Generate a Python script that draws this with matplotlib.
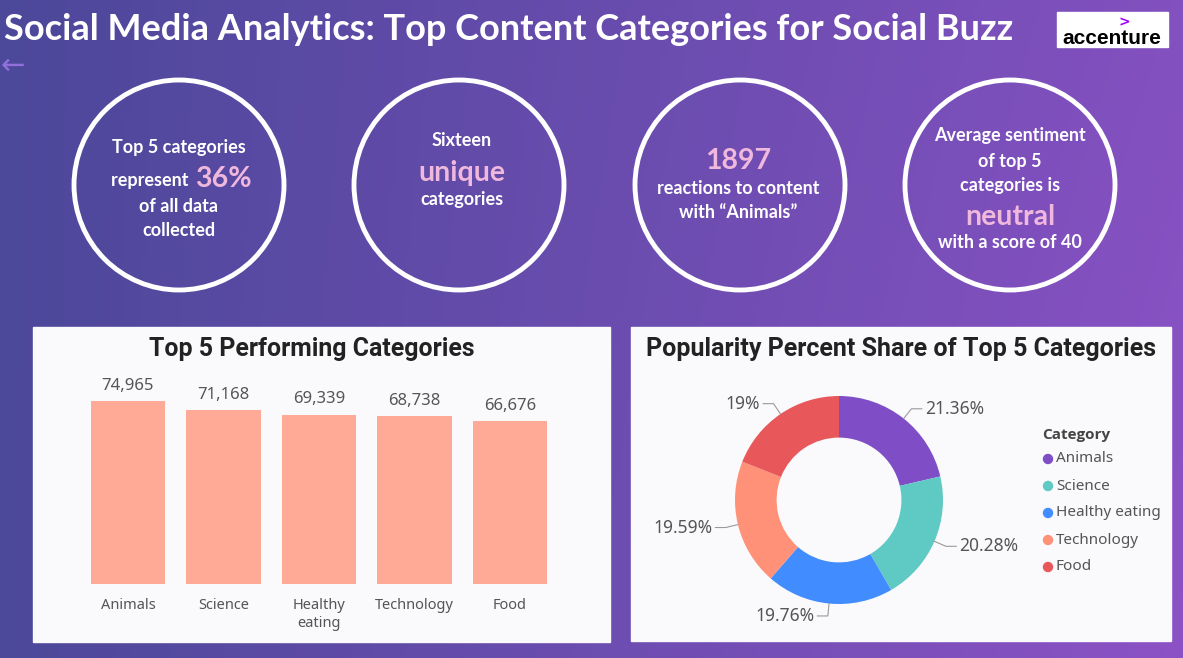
import numpy as np
import matplotlib
matplotlib.use("Agg")
from matplotlib import pyplot as plt
from matplotlib.patches import Circle, Rectangle

# data
categories = ["Animals", "Science", "Healthy eating", "Technology", "Food"]
bar_labels = ["Animals", "Science", "Healthy\neating", "Technology", "Food"]
scores = [74965, 71168, 69339, 68738, 66676]
donut_colors = ["#7F4EC6", "#5FC9C3", "#418CFF", "#FE9178", "#E8585A"]
bar_color = "#FFAA96"

title = "Social Media Analytics: Top Content Categories for Social Buzz"
pink = "#F0B8DC"
grey = "#555555"

W, H = 1183, 658
fig = plt.figure(figsize=(W / 100, H / 100), dpi=100)

# background in pixel coords
ax = fig.add_axes([0, 0, 1, 1])
ax.set_xlim(0, W)
ax.set_ylim(H, 0)
ax.axis("off")

c1 = np.array([76, 72, 154]) / 255.0
c2 = np.array([140, 82, 198]) / 255.0
gx = np.linspace(0, 1, 300)
gy = np.linspace(0, 1, 200)
GX, GY = np.meshgrid(gx, gy)
t = np.clip(0.85 * GX + 0.15 * GY * GX, 0, 1)
grad = c1[None, None, :] * (1 - t[..., None]) + c2[None, None, :] * t[..., None]
ax.imshow(grad, extent=[0, W, H, 0], aspect="auto", zorder=0)

ax.text(4, 30, title, color="white", fontsize=26, fontweight="bold",
        family="Lato", va="center", ha="left")

# accenture logo
ax.add_patch(Rectangle((1057, 12), 111, 35, color="white", zorder=2))
ax.text(1112, 38, "accenture", color="black", fontsize=15, fontweight="bold",
        family="Liberation Sans", ha="center", va="center", zorder=3)
ax.text(1124, 22, ">", color="#A100FF", fontsize=10, fontweight="bold",
        family="DejaVu Sans", ha="center", va="center", zorder=3)

ax.text(13, 66, "\u2190", color="#9270DC", fontsize=21, ha="center", va="center")

# KPI circles
centers = [179, 459, 740, 1010]
for cx in centers:
    ax.add_patch(Circle((cx, 185), 105, fill=False, ec="white", lw=3.5, zorder=2))

kw = dict(color="white", fontsize=13, fontweight="bold", family="Lato",
          ha="center", va="center", zorder=3)
big = dict(color=pink, fontsize=20.5, fontweight="bold", family="Lato",
           va="baseline", zorder=3)

ax.text(179, 147, "Top 5 categories", **kw)
ax.text(193, 186, "represent ", color="white", fontsize=13, fontweight="bold",
        family="Lato", ha="right", va="baseline", zorder=3)
ax.text(195, 187, "36%", ha="left", **big)
ax.text(179, 207, "of all data", **kw)
ax.text(179, 231, "collected", **kw)

ax.text(462, 141, "Sixteen", **kw)
ax.text(462, 181, "unique", ha="center", **big)
ax.text(462, 200, "categories", **kw)

ax.text(738, 169, "1897", ha="center", **big)
ax.text(738, 189, "reactions to content", **kw)
ax.text(738, 212, "with \u201cAnimals\u201d", **kw)

ax.text(1010, 136, "Average sentiment", **kw)
ax.text(1010, 161, "of top 5", **kw)
ax.text(1010, 185, "categories is", **kw)
ax.text(1010, 225, "neutral", ha="center", **big)
ax.text(1010, 243, "with a score of 40", **kw)

# panels
ax.add_patch(Rectangle((33, 327), 577, 315, color="#FAFAFC", zorder=1))
ax.add_patch(Rectangle((631, 327), 540, 314, color="#FAFAFC", zorder=1))

ax.text(312, 349, "Top 5 Performing Categories", color="#222222", fontsize=17.9,
        fontweight="bold", family="Roboto", ha="center", va="center", zorder=3)
ax.text(901, 349, "Popularity Percent Share of Top 5 Categories", color="#222222",
        fontsize=18, fontweight="bold", family="Roboto", ha="center", va="center",
        zorder=3)

# bar chart
px = 0.002441
ymax = 80000
bax = fig.add_axes([80.25 / W, 1 - 584 / H, 477.5 / W, ymax * px / H])
bax.set_xlim(-0.5, 4.5)
bax.set_ylim(0, ymax)
bax.axis("off")
bars = bax.bar(range(len(scores)), scores, width=0.775, color=bar_color)
for i, v in enumerate(scores):
    bax.text(i, v + 3000, f"{v:,}", ha="center", va="bottom", color=grey,
             fontsize=12, family="Noto Sans")
    ax.text(80.25 + 95.5 * (i + 0.5), 598, bar_labels[i], ha="center", va="top",
            color=grey, fontsize=10.5, family="Noto Sans", linespacing=1.3, zorder=3)

# donut chart
dax = fig.add_axes([709 / W, 1 - 630 / H, 260 / W, 260 / H])
dax.set_xlim(-1.3, 1.3)
dax.set_ylim(-1.3, 1.3)
dax.set_aspect("equal")
dax.axis("off")
wedges, _ = dax.pie(scores, colors=donut_colors, startangle=90, counterclock=False,
                    radius=1, wedgeprops=dict(width=0.4, linewidth=0))
total = sum(scores)
for w, v in zip(wedges, scores):
    pct = f"{100 * v / total:.2f}".rstrip("0").rstrip(".") + "%"
    a = np.deg2rad((w.theta1 + w.theta2) / 2)
    x0, y0 = np.cos(a), np.sin(a)
    x1, y1 = 1.12 * x0, 1.12 * y0
    s = 1 if x0 > 0 else -1
    x2 = x1 + s * 0.1
    dax.plot([x0, x1, x2], [y0, y1, y1], color="#9A9A9A", lw=0.8, clip_on=False)
    dax.text(x2 + s * 0.03, y1, pct, ha="left" if s > 0 else "right", va="center",
             color=grey, fontsize=12.5, family="Noto Sans")

# legend
ax.text(1042, 435, "Category", color="#444444", fontsize=11, fontweight="bold",
        family="Open Sans", ha="left", va="center", zorder=3)
for i, (cat, col) in enumerate(zip(categories, donut_colors)):
    yy = 459 + 27 * i
    ax.add_patch(Circle((1048, yy), 4.5, color=col, zorder=3))
    ax.text(1056, yy, cat, color=grey, fontsize=11, family="Noto Sans",
            ha="left", va="center", zorder=3)

fig.savefig("out.png", dpi=100)
